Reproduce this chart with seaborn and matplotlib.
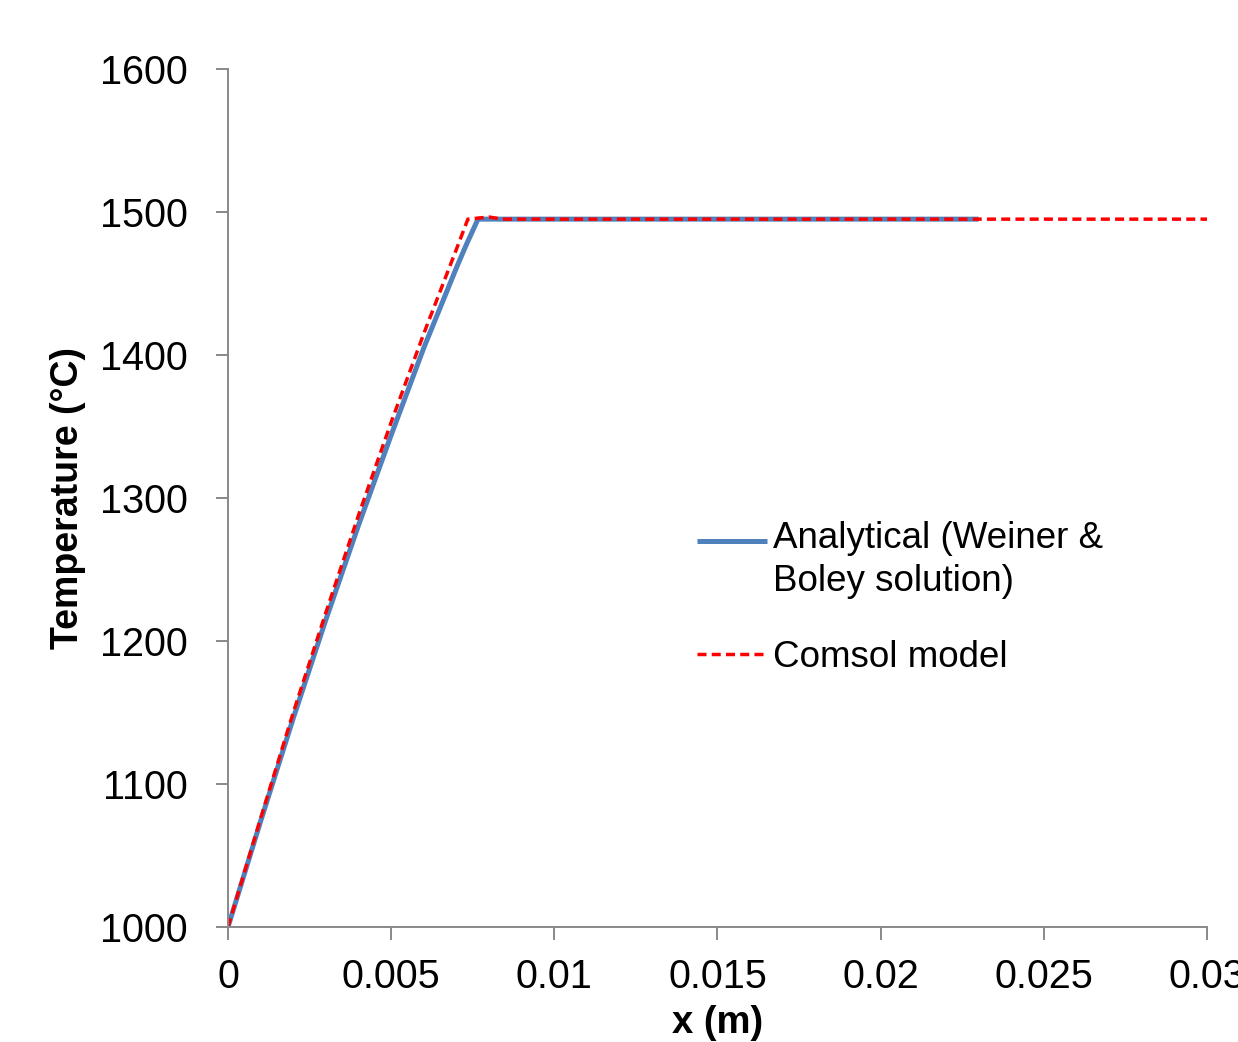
import matplotlib
matplotlib.use("Agg")
import matplotlib.pyplot as plt
from matplotlib.legend_handler import HandlerLine2D
import numpy as np
import seaborn as sns
import pandas as pd

# Data
analytical_x = [0.0, 0.001, 0.002, 0.003, 0.004, 0.005, 0.006, 0.007, 0.0073, 0.00766, 0.023]
analytical_T = [1000, 1074, 1146, 1215, 1281, 1344, 1405, 1461, 1477, 1495, 1495]

comsol_x = [0.0, 0.001, 0.002, 0.003, 0.004, 0.005, 0.006, 0.007, 0.00735, 0.0080, 0.0084, 0.03]
comsol_T = [1000, 1076, 1150, 1220, 1288, 1353, 1415, 1474, 1495, 1496.5, 1495, 1495]

xticks = [0, 0.005, 0.01, 0.015, 0.02, 0.025, 0.03]
xtick_labels = ["0", "0.005", "0.01", "0.015", "0.02", "0.025", "0.03"]
yticks = [1000, 1100, 1200, 1300, 1400, 1500, 1600]

label_analytical = "Analytical (Weiner &\nBoley solution)"
label_comsol = "Comsol model"

df_a = pd.DataFrame({"x": analytical_x, "T": analytical_T})
df_c = pd.DataFrame({"x": comsol_x, "T": comsol_T})

sns.set_style("ticks")
plt.rcParams["font.family"] = ["Liberation Sans", "DejaVu Sans"]
plt.rcParams["text.color"] = "black"
plt.rcParams["axes.labelcolor"] = "black"


class TopLineHandler(HandlerLine2D):
    """Place the legend line level with the first line of a two-line label."""
    def __init__(self, shift=0.0, **kw):
        super().__init__(**kw)
        self.shift = shift

    def create_artists(self, legend, orig_handle, xdescent, ydescent, width,
                       height, fontsize, trans):
        artists = super().create_artists(legend, orig_handle, xdescent, ydescent,
                                         width, height, fontsize, trans)
        for a in artists:
            a.set_ydata(np.asarray(a.get_ydata()) + self.shift)
        return artists


fig = plt.figure(figsize=(12.38, 10.42), dpi=100)
ax = fig.add_axes([228 / 1238, 1 - 927 / 1042, (1207 - 228) / 1238, (927 - 69) / 1042])

sns.lineplot(data=df_a, x="x", y="T", ax=ax, color="#4F81BD", linewidth=3.6,
             label=label_analytical, sort=False, solid_capstyle="butt")
sns.lineplot(data=df_c, x="x", y="T", ax=ax, color="#FF0000", linewidth=2.5,
             linestyle=(0, (2.6, 1.5)), label=label_comsol, sort=False)

ax.set_xlim(0, 0.03)
ax.set_ylim(1000, 1600)
ax.set_xticks(xticks)
ax.set_xticklabels(xtick_labels)
ax.set_yticks(yticks)

gray = "#898989"
for s in ["top", "right"]:
    ax.spines[s].set_visible(False)
for s in ["left", "bottom"]:
    ax.spines[s].set_color(gray)
    ax.spines[s].set_linewidth(1.4)
ax.tick_params(axis="both", colors=gray, labelcolor="black", labelsize=28.5,
               length=9, width=1.4, direction="out")
ax.tick_params(axis="y", pad=20)
ax.tick_params(axis="x", pad=13)

ax.set_xlabel("x (m)", fontsize=27.5, fontweight="bold", labelpad=7, color="black")
ax.set_ylabel("Temperature (°C)", fontsize=27, fontweight="bold", labelpad=10, color="black")

for lbl in ax.get_xticklabels():
    lbl.set_clip_on(False)

handles, labels = ax.get_legend_handles_labels()
leg = ax.legend(handles, labels, loc="upper left", bbox_to_anchor=(0.4641, 0.49),
                frameon=False, fontsize=26.5, handlelength=1.9, handletextpad=0.17,
                labelspacing=1.1, borderaxespad=0,
                handler_map={handles[0]: TopLineHandler(shift=14.5)})
for t in leg.get_texts():
    t.set_color("black")
    t.set_linespacing(1.3)

fig.savefig("out.png", dpi=100)
